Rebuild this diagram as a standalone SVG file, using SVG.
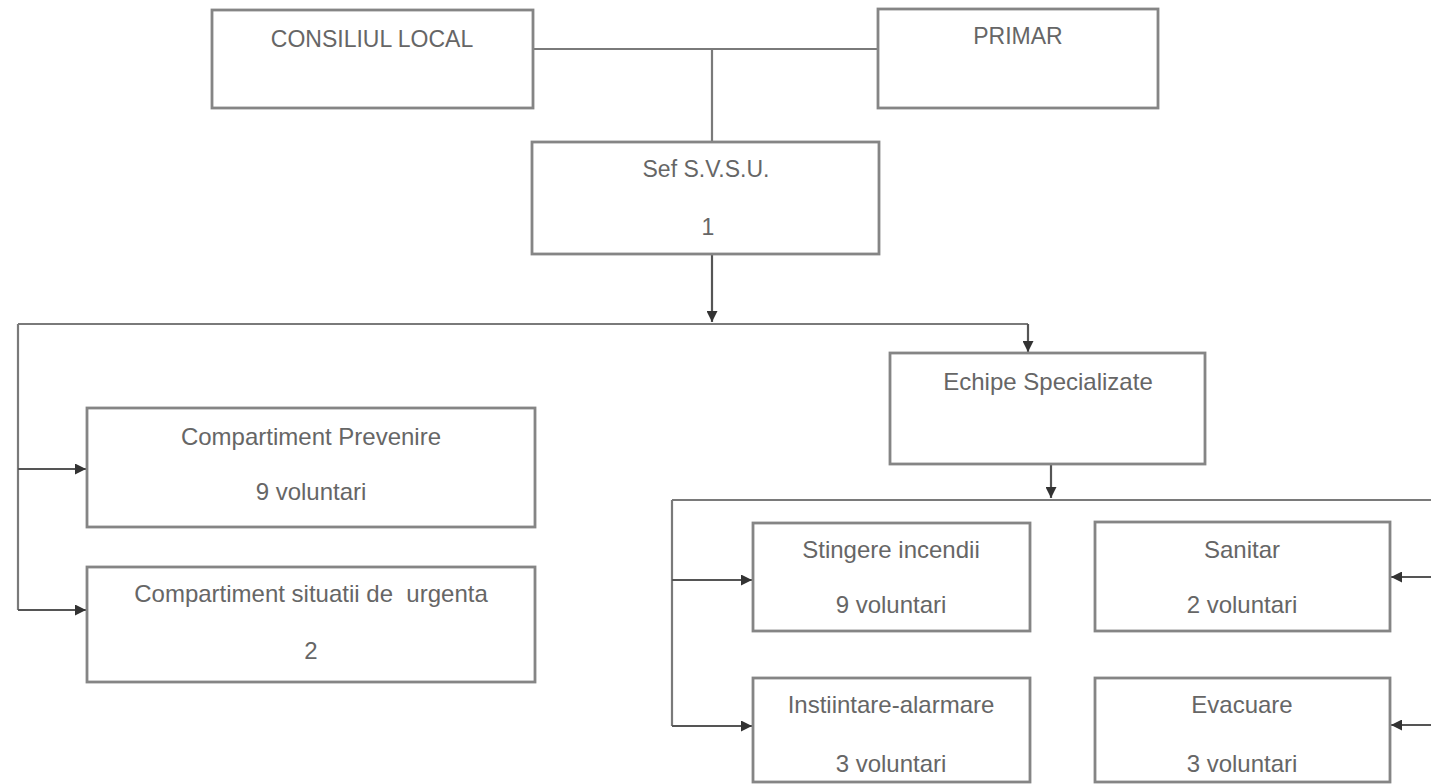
<svg xmlns="http://www.w3.org/2000/svg" width="1431" height="784" viewBox="0 0 1431 784">
<defs>
<style>
.box{fill:#ffffff;stroke:#858585;stroke-width:2.8}
.t{font-family:"Liberation Sans",Arial,sans-serif;font-size:24px;fill:#666666;text-anchor:middle}
.tc{font-size:23px}
.ln{fill:none;stroke:#7a7a7a;stroke-width:2.2}
.ar{fill:none;stroke:#555555;stroke-width:2.2;marker-end:url(#ah)}
</style>
<marker id="ah" viewBox="0 0 10 10" refX="10" refY="5" markerWidth="14" markerHeight="11" markerUnits="userSpaceOnUse" orient="auto">
<path d="M0,0 L10,5 L0,10 z" fill="#333333"/>
</marker>
</defs>
<rect width="1431" height="784" fill="#ffffff"/>
<g id="connectors">
<path class="ln" d="M533,49 H878 M712,49 V142"/>
<path class="ar" d="M712,254 V322"/>
<path class="ln" d="M18,324 H1028"/>
<path class="ar" d="M1028,324 V352"/>
<path class="ln" d="M18,324 V610"/>
<path class="ar" d="M18,469 H86"/>
<path class="ar" d="M18,610 H86"/>
<path class="ar" d="M1051,464 V498"/>
<path class="ln" d="M672,500 H1431 M672,500 V726"/>
<path class="ar" d="M672,580 H752"/>
<path class="ar" d="M672,726 H752"/>
<path class="ar" d="M1431,577 H1391"/>
<path class="ar" d="M1431,725 H1391"/>
</g>
<g id="consiliul-local">
<rect class="box" x="212" y="10" width="321" height="98"/>
<text class="t tc" x="372" y="47">CONSILIUL LOCAL</text>
</g>
<g id="primar">
<rect class="box" x="878" y="9" width="280" height="99"/>
<text class="t tc" x="1018" y="44">PRIMAR</text>
</g>
<g id="sef-svsu">
<rect class="box" x="532" y="142" width="347" height="112"/>
<text class="t tc" x="706" y="177">Sef S.V.S.U.</text>
<text class="t tc" x="708" y="235">1</text>
</g>
<g id="echipe-specializate">
<rect class="box" x="890" y="353" width="315" height="111"/>
<text class="t" x="1048" y="390">Echipe Specializate</text>
</g>
<g id="compartiment-prevenire">
<rect class="box" x="87" y="408" width="448" height="119"/>
<text class="t" x="311" y="445">Compartiment Prevenire</text>
<text class="t" x="311" y="500">9 voluntari</text>
</g>
<g id="compartiment-situatii">
<rect class="box" x="87" y="567" width="448" height="115"/>
<text class="t" x="311" y="602" style="white-space:pre">Compartiment situatii de  urgenta</text>
<text class="t" x="311" y="659">2</text>
</g>
<g id="stingere-incendii">
<rect class="box" x="753" y="523" width="277" height="108"/>
<text class="t" x="891" y="558">Stingere incendii</text>
<text class="t" x="891" y="613">9 voluntari</text>
</g>
<g id="sanitar">
<rect class="box" x="1095" y="522" width="295" height="109"/>
<text class="t" x="1242" y="558">Sanitar</text>
<text class="t" x="1242" y="613">2 voluntari</text>
</g>
<g id="instiintare-alarmare">
<rect class="box" x="753" y="678" width="277" height="104"/>
<text class="t" x="891" y="713">Instiintare-alarmare</text>
<text class="t" x="891" y="772">3 voluntari</text>
</g>
<g id="evacuare">
<rect class="box" x="1095" y="678" width="295" height="104"/>
<text class="t" x="1242" y="713">Evacuare</text>
<text class="t" x="1242" y="772">3 voluntari</text>
</g>
</svg>
